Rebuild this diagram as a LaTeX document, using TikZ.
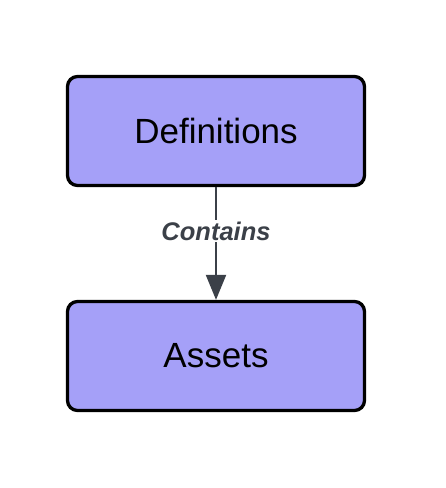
\documentclass[tikz,border=0pt]{standalone}
\usepackage{fontspec}
\setmainfont{Liberation Sans}
\usetikzlibrary{arrows.meta}
\definecolor{boxfill}{HTML}{A5A0F8}
\definecolor{edgecol}{HTML}{3B4048}
\begin{document}
\begin{tikzpicture}[x=1pt,y=-1pt,
  blockbox/.style={draw=black,line width=3.3pt,fill=boxfill,rounded corners=10pt,
    minimum width=297pt,minimum height=109pt,inner sep=0pt,font=\fontsize{35}{40}\selectfont},
  edgelabel/.style={fill=white,inner sep=2pt,font=\fontsize{25.5}{30}\selectfont\bfseries\itshape,text=edgecol}]
\useasboundingbox (0,0) rectangle (446,488);
\node[blockbox] (def) at (216,131) {Definitions};
\node[blockbox] (ast) at (216,356) {Assets};
\draw[edgecol,line width=2.2pt,-{Triangle[length=25pt,width=20pt]}] (def.south) -- (ast.north)
  node[edgelabel,pos=0.39] (lbl) {Contains};
\end{tikzpicture}
\end{document}
